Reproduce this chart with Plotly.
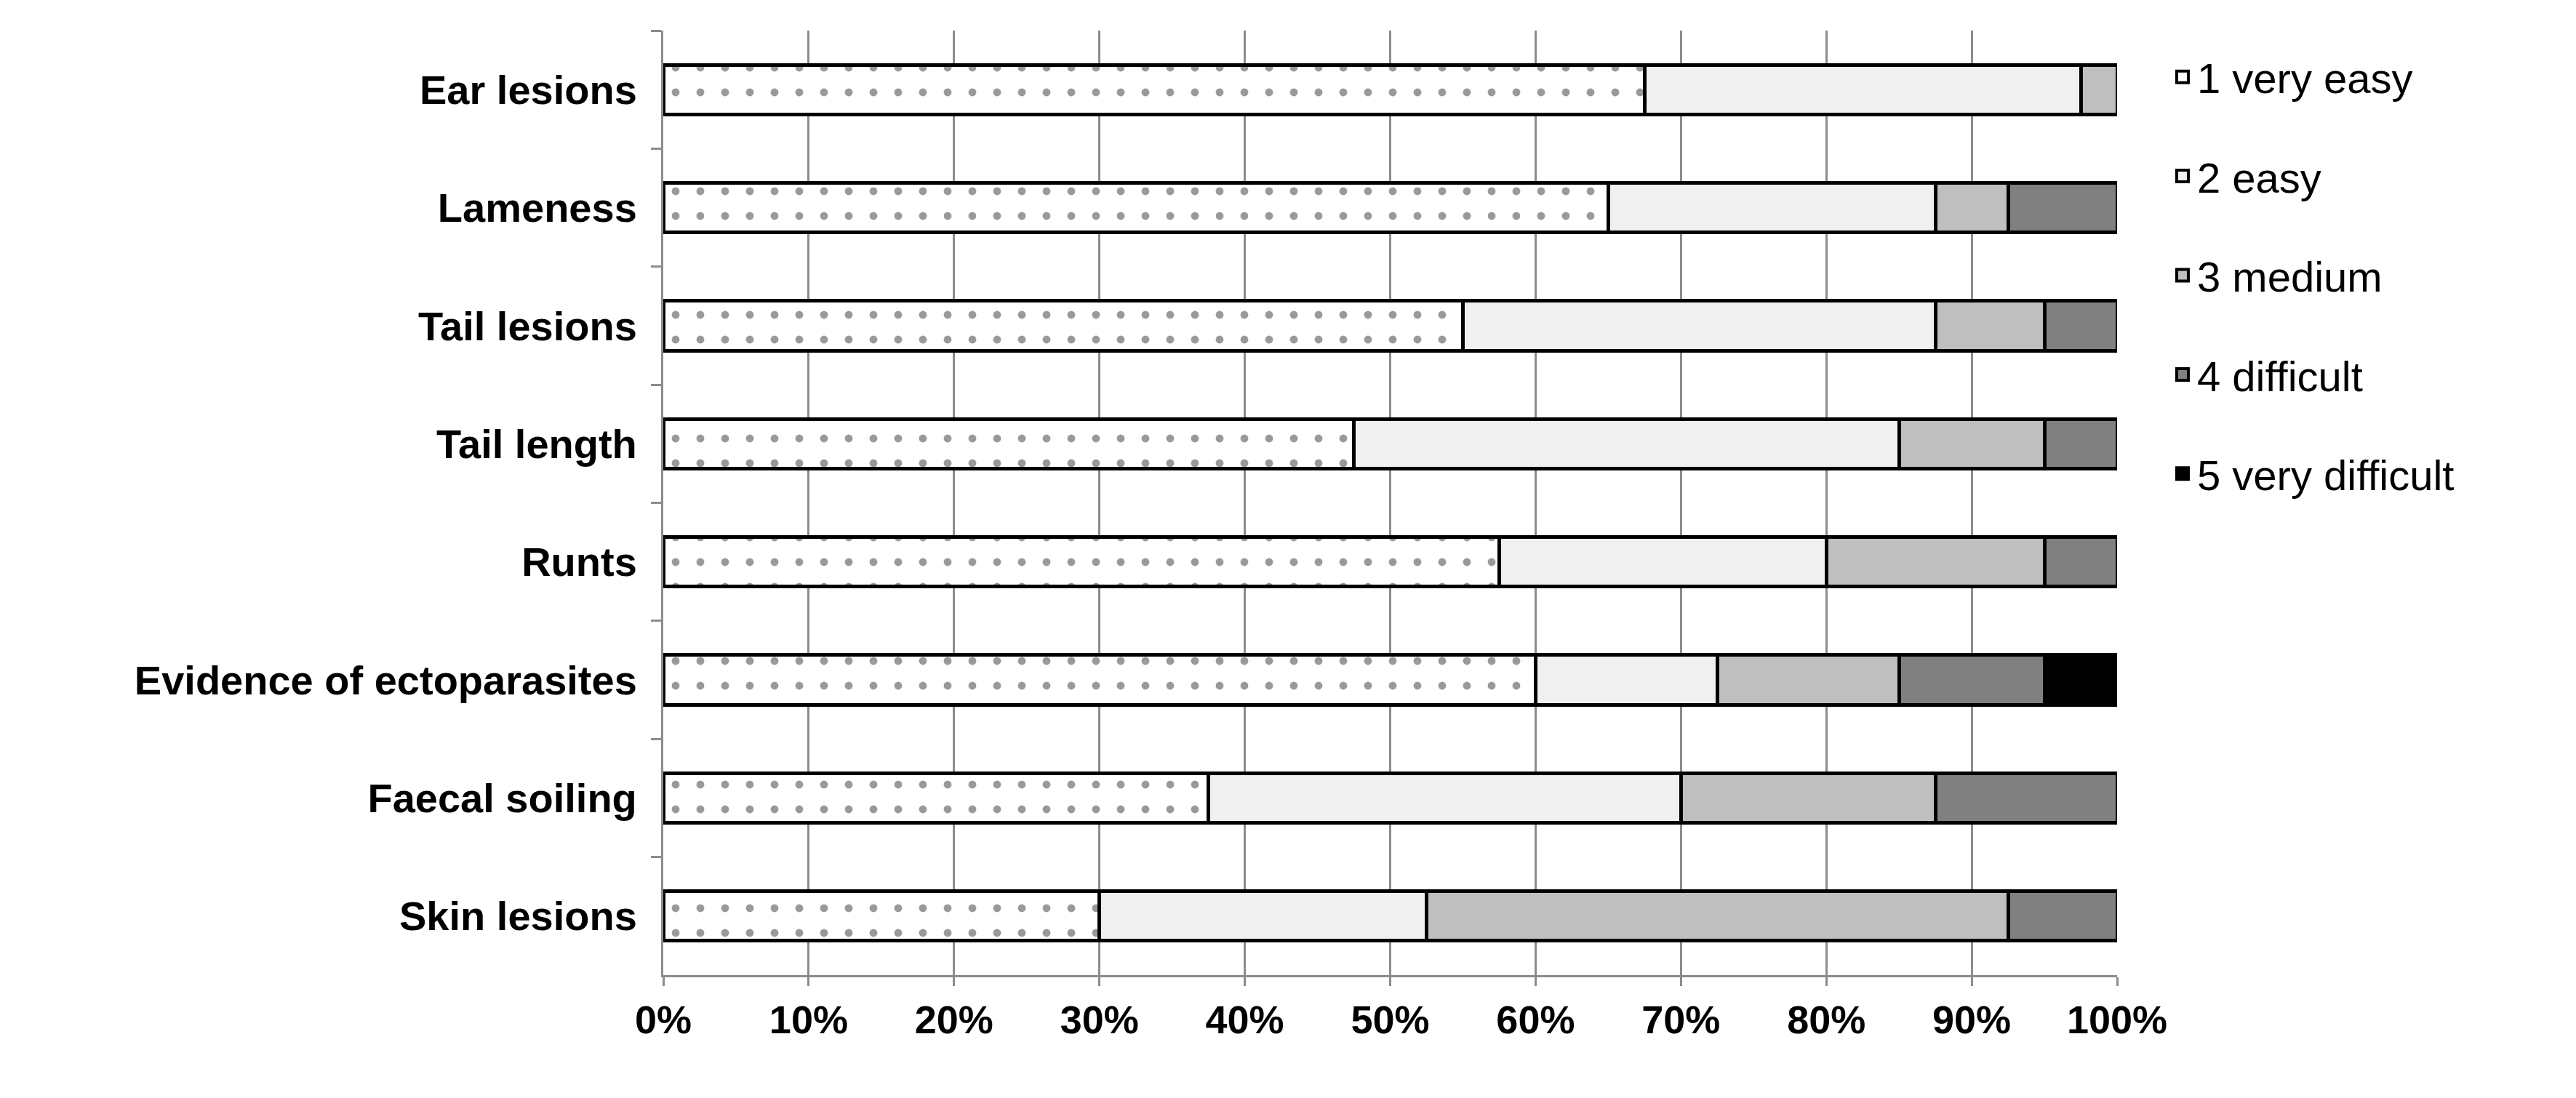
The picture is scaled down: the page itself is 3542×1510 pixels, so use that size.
import plotly.graph_objects as go

categories = ['Ear lesions', 'Lameness', 'Tail lesions', 'Tail length', 'Runts',
              'Evidence of ectoparasites', 'Faecal soiling', 'Skin lesions']
series_names = ['1 very easy', '2 easy', '3 medium', '4 difficult', '5 very difficult']
very_easy = [67.5, 65, 55, 47.5, 57.5, 60, 37.5, 30]
easy = [30, 22.5, 32.5, 37.5, 22.5, 12.5, 32.5, 22.5]
medium = [2.5, 5, 7.5, 10, 15, 12.5, 17.5, 40]
difficult = [0, 7.5, 5, 5, 5, 10, 12.5, 7.5]
very_difficult = [0, 0, 0, 0, 0, 5, 0, 0]
tick_vals = list(range(0, 101, 10))
tick_text = [f'{v}%' for v in tick_vals]

values = [very_easy, easy, medium, difficult, very_difficult]
colors = ['white', '#f0f0f0', '#bfbfbf', '#808080', '#000000']

fig = go.Figure()
for i, (name, vals, col) in enumerate(zip(series_names, values, colors)):
    marker = dict(color=col, line=dict(color='black', width=5))
    if i == 0:
        marker['pattern'] = dict(shape='.', bgcolor='white', fgcolor='#333333',
                                 size=34, solidity=0.08, fillmode='overlay')
    fig.add_trace(go.Bar(y=categories, x=vals, name=name, orientation='h',
                         marker=marker, width=0.42, showlegend=False))
    # legend entry with a bigger square symbol
    fig.add_trace(go.Scatter(x=[None], y=[None], mode='markers', name=name,
                             marker=dict(symbol='square', size=30, color=col,
                                         line=dict(color='black', width=4)),
                             legendgroup=name))

fig.update_layout(
    barmode='stack',
    width=3542, height=1510,
    plot_bgcolor='white', paper_bgcolor='white',
    font=dict(family='Liberation Sans', size=54, color='black'),
    margin=dict(l=904, r=639, t=34, b=177),
    legend=dict(x=1.035, y=0.985, yanchor='top', tracegroupgap=58,
                font=dict(size=58), itemwidth=30),
    xaxis=dict(range=[0, 100], tickvals=tick_vals, ticktext=tick_text,
               showgrid=True, gridcolor='#8c8c8c', gridwidth=3,
               showline=True, linecolor='#8c8c8c', linewidth=3,
               ticks='outside', tickcolor='#8c8c8c', ticklen=12, tickwidth=3,
               tickfont=dict(size=54, family='Liberation Sans', weight='bold'),
               zeroline=False),
    yaxis=dict(autorange='reversed', showline=True, linecolor='#8c8c8c', linewidth=3,
               ticks='outside', tickson='boundaries', tickcolor='#8c8c8c', ticklen=14,
               tickwidth=3, ticklabelstandoff=22,
               tickfont=dict(size=56, family='Liberation Sans', weight='bold')),
)

fig.write_html('out.html')
